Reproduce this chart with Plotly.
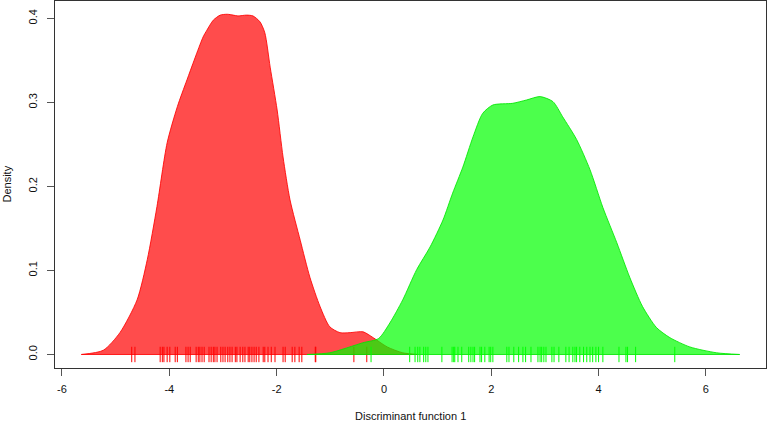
import plotly.graph_objects as go

# Density curve of group 1 (red)
red_x = [-5.64, -5.23, -4.92, -4.60, -4.41, -4.23, -4.04, -3.85, -3.67, -3.37, -3.30, -3.18,
         -3.05, -2.92, -2.81, -2.72, -2.56, -2.44, -2.31, -2.22, -2.12, -1.99, -1.88, -1.75,
         -1.56, -1.38, -1.19, -1.01, -0.82, -0.63, -0.39, -0.20, 0.06, 0.35, 0.63]
red_y = [0.000, 0.005, 0.026, 0.065, 0.113, 0.176, 0.252, 0.295, 0.327, 0.378, 0.386, 0.398,
         0.404, 0.405, 0.404, 0.403, 0.404, 0.403, 0.396, 0.383, 0.342, 0.291, 0.235, 0.184,
         0.136, 0.092, 0.057, 0.033, 0.026, 0.026, 0.027, 0.020, 0.009, 0.002, 0.000]

# Density curve of group 2 (green)
green_x = [-1.43, -1.01, -0.39, -0.10, 0.11, 0.35, 0.61, 0.86, 1.10, 1.28, 1.47, 1.66, 1.84,
           2.03, 2.40, 2.66, 2.91, 3.15, 3.33, 3.59, 3.84, 4.08, 4.34, 4.58, 4.82, 5.08,
           5.33, 5.70, 6.20, 6.63]
green_y = [0.000, 0.002, 0.014, 0.019, 0.0375, 0.065, 0.101, 0.128, 0.160, 0.192, 0.223,
           0.259, 0.287, 0.297, 0.299, 0.303, 0.307, 0.301, 0.283, 0.256, 0.220, 0.175,
           0.133, 0.092, 0.057, 0.032, 0.020, 0.009, 0.002, 0.000]

# Individual observations (rug marks)
red_obs = [-4.70, -4.64, -4.17, -4.13, -4.10, -4.04, -3.99, -3.89, -3.85, -3.69, -3.65, -3.61,
           -3.50, -3.46, -3.43, -3.39, -3.35, -3.26, -3.22, -3.18, -3.15, -3.11, -3.04, -3.00,
           -2.96, -2.91, -2.87, -2.83, -2.77, -2.74, -2.68, -2.63, -2.59, -2.53, -2.50, -2.46,
           -2.42, -2.38, -2.33, -2.25, -2.22, -2.16, -2.10, -2.03, -1.88, -1.84, -1.71, -1.66,
           -1.58, -1.53, -1.28, -1.27, -0.56, -0.32]
green_obs = [-0.24, 0.48, 0.58, 0.63, 0.67, 0.74, 0.78, 0.82, 1.08, 1.27, 1.30, 1.32, 1.38,
             1.45, 1.58, 1.62, 1.66, 1.69, 1.79, 1.82, 1.88, 1.96, 1.99, 2.03, 2.29, 2.33,
             2.42, 2.51, 2.59, 2.64, 2.74, 2.87, 2.91, 2.94, 2.98, 3.02, 3.13, 3.17, 3.26,
             3.39, 3.45, 3.52, 3.56, 3.59, 3.65, 3.72, 3.78, 3.84, 3.89, 3.95, 4.00, 4.08,
             4.38, 4.51, 4.54, 4.69, 5.42]

x_ticks = [-6, -4, -2, 0, 2, 4, 6]
x_tick_text = ["-6", "-4", "-2", "0", "2", "4", "6"]
y_ticks = [0.0, 0.1, 0.2, 0.3, 0.4]
y_tick_text = ["0.0", "0.1", "0.2", "0.3", "0.4"]

FONT = "Liberation Sans, Arial, sans-serif"

fig = go.Figure()

def add_group(xs, ys, obs, fill, line, rug):
    fig.add_trace(go.Scatter(x=xs, y=ys, mode="lines", fill="tozeroy", fillcolor=fill,
                             line=dict(color=line, width=1, shape="spline", smoothing=0.7),
                             hoverinfo="skip", showlegend=False))
    fig.add_trace(go.Scatter(x=[xs[0], xs[-1]], y=[0, 0], mode="lines",
                             line=dict(color=line, width=1), hoverinfo="skip", showlegend=False))
    fig.add_trace(go.Scatter(x=obs, y=[0] * len(obs), mode="markers",
                             marker=dict(symbol="line-ns", size=11,
                                         line=dict(color=rug, width=1)),
                             hoverinfo="skip", showlegend=False))

add_group(red_x, red_y, red_obs, "rgba(255,0,0,0.7)", "rgba(255,0,0,0.85)", "#ff0000")
add_group(green_x, green_y, green_obs, "rgba(0,255,0,0.7)", "rgba(0,230,0,0.85)", "#00ff00")

axis_common = dict(showgrid=False, zeroline=False, showline=True, mirror=True,
                   linecolor="#333333", linewidth=1, ticks="outside", ticklen=7,
                   tickcolor="#555555", tickwidth=1, automargin=False,
                   tickfont=dict(family=FONT, size=11, color="#111111"))

fig.update_xaxes(range=[-6.13, 7.12], tickvals=x_ticks, ticktext=x_tick_text,
                 ticklabelstandoff=4, **axis_common)
fig.update_yaxes(range=[-0.0161, 0.4208], tickvals=y_ticks, ticktext=y_tick_text,
                 tickangle=-90, ticklabelstandoff=6, **axis_common)

fig.add_annotation(text="Discriminant function 1", xref="paper", yref="paper",
                   x=0.5, y=-0.1308, xanchor="center", yanchor="middle", showarrow=False,
                   font=dict(family=FONT, size=11, color="#111111"))
fig.add_annotation(text="Density", xref="paper", yref="paper", textangle=-90,
                   x=-0.0689, y=0.5, xanchor="center", yanchor="middle", showarrow=False,
                   font=dict(family=FONT, size=11, color="#111111"))

fig.update_layout(width=767, height=423, margin=dict(l=55, r=1, t=1, b=55),
                  paper_bgcolor="white", plot_bgcolor="white")

fig.write_html("out.html", config={"displayModeBar": False},
               post_script="document.body.style.margin='0';document.body.style.padding='0';")
